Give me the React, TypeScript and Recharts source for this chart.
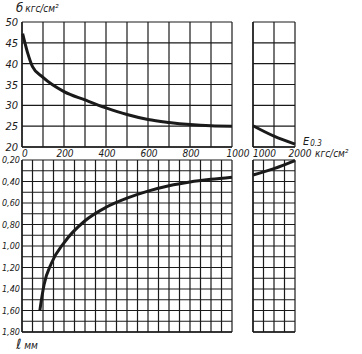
import React from "react";
import { LineChart, Line, XAxis, YAxis, CartesianGrid } from "recharts";

// σ (кгс/см²) against E0.3, left panel 0..1000
const sigmaE = [3, 25, 50, 100, 200, 300, 400, 500, 600, 700, 800, 900, 1000];
const sigmaVal = [47.2, 42.9, 39.3, 36.7, 33.3, 31.3, 29.4, 27.8, 26.6, 25.9, 25.4, 25.1, 25.0];
// σ right panel 1000..2000
const sigmaTailE = [1000, 1500, 2000];
const sigmaTailVal = [25.1, 22.6, 20.7];
// ℓ (мм) against E0.3
const lenE = [85, 95, 105, 140, 200, 300, 400, 500, 600, 700, 800, 900, 1000];
const lenVal = [1.6, 1.47, 1.36, 1.16, 0.97, 0.765, 0.64, 0.555, 0.49, 0.44, 0.405, 0.38, 0.36];
const lenTailE = [1000, 1500, 2000];
const lenTailVal = [0.34, 0.28, 0.205];

// ticks
const eTicksTop = [0, 100, 200, 300, 400, 500, 600, 700, 800, 900, 1000];
const eTicksBottom = [0, 50, 100, 150, 200, 250, 300, 350, 400, 450, 500, 550, 600, 650, 700, 750, 800, 850, 900, 950, 1000];
const eTicksTopRight = [1000, 1500, 2000];
const eTicksBottomRight = [1000, 1250, 1500, 1750, 2000];
const sigmaTicks = [20, 25, 30, 35, 40, 45, 50];
const lenTicks = [0.2, 0.3, 0.4, 0.5, 0.6, 0.7, 0.8, 0.9, 1.0, 1.1, 1.2, 1.3, 1.4, 1.5, 1.6, 1.7, 1.8];

const W = 362;
const H = 354;
const YW = 20;
const XH = 14;
const FONT = "'DejaVu Sans Condensed', 'Liberation Sans Narrow', sans-serif";
const INK = "#1a1a1a";

const zip = (xs: number[], ys: number[]) => xs.map((e, i) => ({ e, v: ys[i] }));

const NoTick = () => null;

interface PanelProps {
  data: { e: number; v: number }[];
  box: { left: number; top: number; right: number; bottom: number };
  xDomain: [number, number];
  xTicks: number[];
  yDomain: [number, number];
  yTicks: number[];
  reversed?: boolean;
  xTick?: any;
  yTick?: any;
}

function Panel({ data, box, xDomain, xTicks, yDomain, yTicks, reversed, xTick, yTick }: PanelProps) {
  return (
    <div style={{ position: "absolute", left: 0, top: 0 }}>
      <LineChart
        width={W}
        height={H}
        data={data}
        margin={{ top: box.top, left: box.left - YW, right: W - box.right, bottom: H - box.bottom - XH }}
      >
        <CartesianGrid stroke={INK} strokeWidth={1.2} />
        <XAxis
          dataKey="e"
          type="number"
          domain={xDomain}
          ticks={xTicks}
          interval={0}
          height={XH}
          axisLine={{ stroke: INK, strokeWidth: 1.4 }}
          tickLine={false}
          tickSize={0}
          tickMargin={0}
          tick={xTick ?? <NoTick />}
        />
        <YAxis
          type="number"
          domain={yDomain}
          ticks={yTicks}
          interval={0}
          width={YW}
          reversed={reversed}
          axisLine={{ stroke: INK, strokeWidth: 1.4 }}
          tickLine={false}
          tickSize={0}
          tickMargin={0}
          tick={yTick ?? <NoTick />}
        />
        <Line
          dataKey="v"
          type="monotone"
          stroke={INK}
          strokeWidth={3}
          dot={false}
          isAnimationActive={false}
        />
      </LineChart>
    </div>
  );
}

const txt = { fontFamily: FONT, fontStyle: "italic" as const, fill: INK };

function SigmaTick({ y, payload }: any) {
  return (
    <text x={18} y={y + 4} textAnchor="end" fontSize={11} {...txt}>
      {payload.value}
    </text>
  );
}

function LenTick({ y, payload }: any) {
  const v = payload.value as number;
  if (Math.round(v * 10) % 2 === 1) return null;
  return (
    <text x={20} y={y + 3} textAnchor="end" fontSize={9} {...txt}>
      {v.toFixed(2).replace(".", ",")}
    </text>
  );
}

function ETick({ x, payload }: any) {
  const v = payload.value as number;
  if (v % 200 !== 0) return null;
  const anchor = v === 0 ? "start" : "middle";
  const dx = v === 1000 ? 6 : v === 0 ? 0 : 1;
  return (
    <text x={x + dx} y={157} textAnchor={anchor} fontSize={10} {...txt}>
      {v}
    </text>
  );
}

function ETickRight({ x, payload }: any) {
  const v = payload.value as number;
  if (v === 1500) return null;
  return (
    <text x={v === 1000 ? x : x + 5} y={157} textAnchor={v === 1000 ? "start" : "middle"} fontSize={10} {...txt}>
      {v}
    </text>
  );
}

export default function App() {
  const topBox = { left: 22, top: 22, right: 232, bottom: 147 };
  const botBox = { left: 22, top: 160, right: 232, bottom: 332 };
  const topRBox = { left: 253, top: 22, right: 295, bottom: 147 };
  const botRBox = { left: 253, top: 160, right: 295, bottom: 332 };
  return (
    <div style={{ position: "absolute", left: 0, top: 0, width: W, height: H, background: "#fff" }}>
      <Panel
        data={zip(sigmaE, sigmaVal)}
        box={topBox}
        xDomain={[0, 1000]}
        xTicks={eTicksTop}
        yDomain={[20, 50]}
        yTicks={sigmaTicks}
        xTick={<ETick />}
        yTick={<SigmaTick />}
      />
      <Panel
        data={zip(lenE, lenVal)}
        box={botBox}
        xDomain={[0, 1000]}
        xTicks={eTicksBottom}
        yDomain={[0.2, 1.8]}
        yTicks={lenTicks}
        reversed
        yTick={<LenTick />}
      />
      <Panel
        data={zip(sigmaTailE, sigmaTailVal)}
        box={topRBox}
        xDomain={[1000, 2000]}
        xTicks={eTicksTopRight}
        yDomain={[20, 50]}
        yTicks={sigmaTicks}
        xTick={<ETickRight />}
      />
      <Panel
        data={zip(lenTailE, lenTailVal)}
        box={botRBox}
        xDomain={[1000, 2000]}
        xTicks={eTicksBottomRight}
        yDomain={[0.2, 1.8]}
        yTicks={lenTicks}
        reversed
      />
      <svg width={W} height={H} style={{ position: "absolute", left: 0, top: 0, pointerEvents: "none" }}>
        <text x={16} y={12} fontSize={13} {...txt}>
          б
          <tspan fontSize={10} dx={2}>кгс/см²</tspan>
        </text>
        <text x={303} y={145} fontSize={11} {...txt}>
          E<tspan fontSize={8} dx={1} dy={1}>0.3</tspan>
        </text>
        <text x={315} y={157} fontSize={10} {...txt}>
          кгс/см²
        </text>
        <text x={16} y={349} fontSize={14} {...txt}>
          ℓ<tspan fontSize={10} dx={3}>мм</tspan>
        </text>
      </svg>
    </div>
  );
}
